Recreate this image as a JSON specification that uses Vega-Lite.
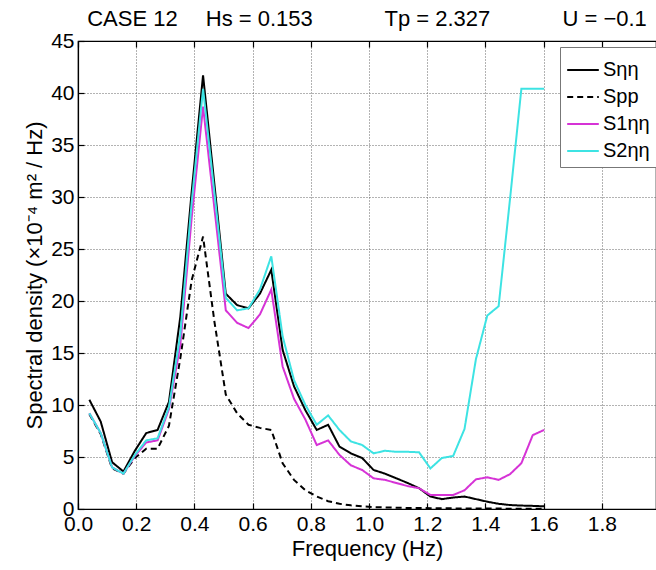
{
  "$schema": "https://vega.github.io/schema/vega-lite/v6.json",
  "width": 578,
  "height": 468,
  "autosize": {"type": "none"},
  "padding": {"left": 78, "top": 41, "right": 0, "bottom": 61},
  "background": "white",
  "title": {
    "text": "CASE 12\u2003 Hs = 0.153\u2003\u2003\u2003 Tp = 2.327\u2003\u2003\u2003 U = \u22120.1",
    "font": "Liberation Sans",
    "fontSize": 22,
    "fontWeight": "normal",
    "color": "#000",
    "anchor": "middle",
    "offset": -1
  },
  "config": {
    "view": {"stroke": "#000", "strokeWidth": 1.2},
    "axis": {
      "labelFont": "Liberation Sans",
      "labelFontSize": 21,
      "labelColor": "#000",
      "titleFont": "Liberation Sans",
      "titleFontSize": 22,
      "titleFontWeight": "normal",
      "titleColor": "#000",
      "domainColor": "#000",
      "domainWidth": 1.2,
      "tickColor": "#000",
      "tickWidth": 1.2,
      "tickSize": -6,
      "labelPadding": 10,
      "gridColor": "#666",
      "gridDash": [1, 2],
      "gridOpacity": 1,
      "gridWidth": 1
    },
    "legend": {
      "labelFont": "Liberation Sans",
      "labelFontSize": 20,
      "labelColor": "#000"
    }
  },
  "data": {
    "values": [
      {"f": 0.0391, "S": 10.5, "P": 9.1, "S1": 9.2, "S2": 9.2},
      {"f": 0.0781, "S": 8.4, "P": 7.2, "S1": 7.3, "S2": 7.3},
      {"f": 0.1172, "S": 4.5, "P": 3.9, "S1": 4.0, "S2": 4.0},
      {"f": 0.1563, "S": 3.6, "P": 3.4, "S1": 3.4, "S2": 3.4},
      {"f": 0.1953, "S": 5.6, "P": 4.9, "S1": 5.1, "S2": 5.2},
      {"f": 0.2344, "S": 7.3, "P": 5.8, "S1": 6.4, "S2": 6.6},
      {"f": 0.2734, "S": 7.6, "P": 5.8, "S1": 6.6, "S2": 6.8},
      {"f": 0.3125, "S": 10.3, "P": 8.0, "S1": 9.6, "S2": 9.8},
      {"f": 0.3516, "S": 18.5, "P": 14.5, "S1": 15.8, "S2": 16.8},
      {"f": 0.3906, "S": 30.5, "P": 22.0, "S1": 28.0, "S2": 29.5},
      {"f": 0.4297, "S": 41.7, "P": 26.2, "S1": 38.7, "S2": 40.4},
      {"f": 0.4688, "S": 31.2, "P": 18.0, "S1": 28.9, "S2": 30.4},
      {"f": 0.5078, "S": 20.7, "P": 11.0, "S1": 19.1, "S2": 20.3},
      {"f": 0.5469, "S": 19.6, "P": 9.2, "S1": 17.9, "S2": 19.1},
      {"f": 0.5859, "S": 19.3, "P": 8.1, "S1": 17.4, "S2": 19.3},
      {"f": 0.625, "S": 20.7, "P": 7.8, "S1": 18.7, "S2": 21.1},
      {"f": 0.6641, "S": 23.0, "P": 7.6, "S1": 21.1, "S2": 24.3},
      {"f": 0.7031, "S": 15.3, "P": 4.4, "S1": 13.7, "S2": 16.6},
      {"f": 0.7422, "S": 11.8, "P": 2.8, "S1": 10.6, "S2": 12.4},
      {"f": 0.7813, "S": 9.5, "P": 1.8, "S1": 8.6, "S2": 10.0},
      {"f": 0.8203, "S": 7.6, "P": 1.2, "S1": 6.15, "S2": 8.1},
      {"f": 0.8594, "S": 8.1, "P": 0.75, "S1": 6.6, "S2": 9.0},
      {"f": 0.8984, "S": 6.0, "P": 0.5, "S1": 5.2, "S2": 7.6},
      {"f": 0.9375, "S": 5.35, "P": 0.35, "S1": 4.2, "S2": 6.5},
      {"f": 0.9766, "S": 4.9, "P": 0.25, "S1": 3.75, "S2": 6.15},
      {"f": 1.0156, "S": 3.75, "P": 0.18, "S1": 2.95, "S2": 5.35},
      {"f": 1.0547, "S": 3.4, "P": 0.15, "S1": 2.8, "S2": 5.6},
      {"f": 1.0938, "S": 2.95, "P": 0.12, "S1": 2.5, "S2": 5.5},
      {"f": 1.1328, "S": 2.5, "P": 0.1, "S1": 2.2, "S2": 5.5},
      {"f": 1.1719, "S": 2.0, "P": 0.1, "S1": 2.0, "S2": 5.45},
      {"f": 1.2109, "S": 1.2, "P": 0.08, "S1": 1.35, "S2": 3.9},
      {"f": 1.25, "S": 0.95, "P": 0.07, "S1": 1.35, "S2": 4.9},
      {"f": 1.2891, "S": 1.1, "P": 0.06, "S1": 1.35, "S2": 5.1},
      {"f": 1.3281, "S": 1.2, "P": 0.05, "S1": 1.8, "S2": 7.7},
      {"f": 1.3672, "S": 0.95, "P": 0.05, "S1": 2.85, "S2": 14.4},
      {"f": 1.4063, "S": 0.7, "P": 0.04, "S1": 3.05, "S2": 18.6},
      {"f": 1.4453, "S": 0.5, "P": 0.04, "S1": 2.8, "S2": 19.5},
      {"f": 1.4844, "S": 0.38, "P": 0.03, "S1": 3.35, "S2": 29.8},
      {"f": 1.5234, "S": 0.33, "P": 0.03, "S1": 4.4, "S2": 40.4},
      {"f": 1.5625, "S": 0.3, "P": 0.03, "S1": 7.1, "S2": 40.4},
      {"f": 1.6016, "S": 0.26, "P": 0.03, "S1": 7.6, "S2": 40.4}
    ]
  },
  "transform": [
    {"fold": ["S", "P", "S1", "S2"], "as": ["key", "v"]},
    {"lookup": "key", "from": {"data": {"values": [
      {"key": "S", "series": "S\u03b7\u03b7"},
      {"key": "P", "series": "Spp"},
      {"key": "S1", "series": "S1\u03b7\u03b7"},
      {"key": "S2", "series": "S2\u03b7\u03b7"}
    ]}, "key": "key", "fields": ["series"]}}
  ],
  "layer": [
    {
      "mark": {"type": "line", "strokeWidth": 2, "clip": true},
      "encoding": {
        "x": {
          "field": "f", "type": "quantitative",
          "scale": {"domain": [0, 1.986], "nice": false, "zero": false},
          "axis": {
            "values": [0, 0.2, 0.4, 0.6, 0.8, 1.0, 1.2, 1.4, 1.6, 1.8],
            "format": ".1f",
            "title": "Frequency (Hz)",
            "titlePadding": 4,
            "labelFlush": false
          }
        },
        "y": {
          "field": "v", "type": "quantitative",
          "scale": {"domain": [0, 45], "nice": false},
          "axis": {
            "values": [0, 5, 10, 15, 20, 25, 30, 35, 40, 45],
            "title": "Spectral density (\u00d710\u207b\u2074 m\u00b2 / Hz)",
            "titlePadding": 4,
            "labelFlush": false
          }
        },
        "color": {
          "field": "series", "type": "nominal",
          "scale": {"domain": ["S\u03b7\u03b7", "Spp", "S1\u03b7\u03b7", "S2\u03b7\u03b7"], "range": ["#000000", "#000000", "#d633d6", "#3de3e3"]},
          "legend": {
            "title": null,
            "orient": "none",
            "legendX": 482,
            "legendY": 6,
            "symbolType": "stroke",
            "symbolSize": 1000,
            "symbolStrokeWidth": 2,
            "rowPadding": -2,
            "labelOffset": 3,
            "fillColor": "#ffffff",
            "strokeColor": "#777777",
            "padding": 6
          }
        },
        "strokeDash": {
          "field": "series", "type": "nominal",
          "scale": {"domain": ["S\u03b7\u03b7", "Spp", "S1\u03b7\u03b7", "S2\u03b7\u03b7"], "range": [[1, 0], [6, 4], [1, 0], [1, 0]]},
          "legend": {"title": null}
        },
        "order": {"field": "f", "type": "quantitative"}
      }
    },
    {
      "mark": {"type": "rule", "opacity": 0},
      "encoding": {
        "x": {
          "field": "f", "type": "quantitative",
          "axis": {
            "orient": "top",
            "values": [0, 0.2, 0.4, 0.6, 0.8, 1.0, 1.2, 1.4, 1.6, 1.8],
            "labels": false,
            "grid": false,
            "title": null
          }
        }
      }
    }
  ],
  "resolve": {"axis": {"x": "independent"}}
}
